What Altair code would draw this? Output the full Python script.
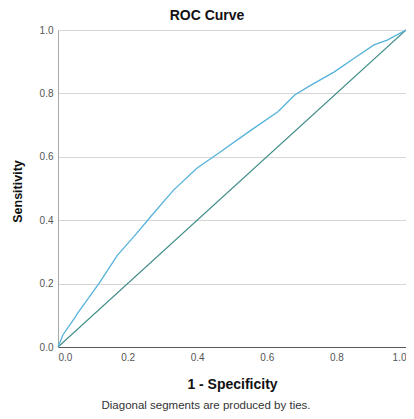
import altair as alt
import pandas as pd

# ROC curve points (1 - specificity, sensitivity)
fpr = [0.0, 0.014, 0.047, 0.056, 0.118, 0.171, 0.218, 0.266, 0.332, 0.399,
       0.461, 0.556, 0.632, 0.680, 0.727, 0.794, 0.851, 0.908, 0.946, 1.0]
tpr = [0.0, 0.038, 0.090, 0.106, 0.201, 0.290, 0.348, 0.411, 0.495, 0.564,
       0.611, 0.685, 0.742, 0.795, 0.826, 0.868, 0.911, 0.953, 0.968, 1.0]

# reference line
ref_x = [0.0, 1.0]
ref_y = [0.0, 1.0]

tick_values = [0.0, 0.2, 0.4, 0.6, 0.8, 1.0]
footnote = ["Diagonal segments are produced by ties."]

FONT = "Liberation Sans"

curve_df = pd.DataFrame({"fpr": fpr, "tpr": tpr, "order": list(range(len(fpr)))})
ref_df = pd.DataFrame({"fpr": ref_x, "tpr": ref_y})
note_df = pd.DataFrame({"note": footnote})

xscale = alt.Scale(domain=[0, 1], nice=False)
yscale = alt.Scale(domain=[0, 1], nice=False)

xaxis = alt.Axis(
    title="1 - Specificity", values=tick_values, format=".1f", grid=False,
    ticks=False, domainColor="#5a5a5a", domainWidth=1.2,
    labelFont=FONT, labelFontSize=10, labelColor="#555555", labelPadding=5,
    titleFont=FONT, titleFontSize=14, titleFontWeight="bold", titleColor="#111111",
    titleY=41, titleBaseline="alphabetic",
)
yaxis = alt.Axis(
    title="Sensitivity", values=tick_values, format=".1f", grid=True,
    gridColor="#d6d6d6", gridWidth=1, ticks=False, domainColor="#a8a8a8",
    labelFont=FONT, labelFontSize=10, labelColor="#555555", labelPadding=5,
    titleFont=FONT, titleFontSize=12.5, titleFontWeight="bold", titleColor="#111111",
    titleX=-37, titleY=161, titleBaseline="alphabetic", titleAngle=270,
)

ref = alt.Chart(ref_df).mark_line(color="#3f8c86", strokeWidth=1.1).encode(
    x=alt.X("fpr:Q", scale=xscale, axis=xaxis),
    y=alt.Y("tpr:Q", scale=yscale, axis=yaxis),
)

curve = alt.Chart(curve_df).mark_line(color="#55b2da", strokeWidth=1.3).encode(
    x=alt.X("fpr:Q", scale=xscale),
    y=alt.Y("tpr:Q", scale=yscale),
    order="order:Q",
)

note = alt.Chart(note_df).mark_text(
    font=FONT, fontSize=11.5, color="#333333", align="center", baseline="alphabetic"
).encode(
    text="note:N",
    x=alt.value(148),
    y=alt.value(379),
)

chart = alt.layer(ref, curve, note).properties(
    width=348,
    height=317,
    autosize=alt.AutoSizeParams(type="none"),
    padding={"left": 50, "top": 22, "right": 0, "bottom": 64},
    title=alt.TitleParams(
        "ROC Curve", font=FONT, fontSize=14, fontWeight="bold", color="#111111",
        anchor="middle", offset=2, dx=-25,
    ),
).configure_view(stroke=None).configure(background="white")

chart.save("out.html", embed_options={"renderer": "svg", "actions": False})
